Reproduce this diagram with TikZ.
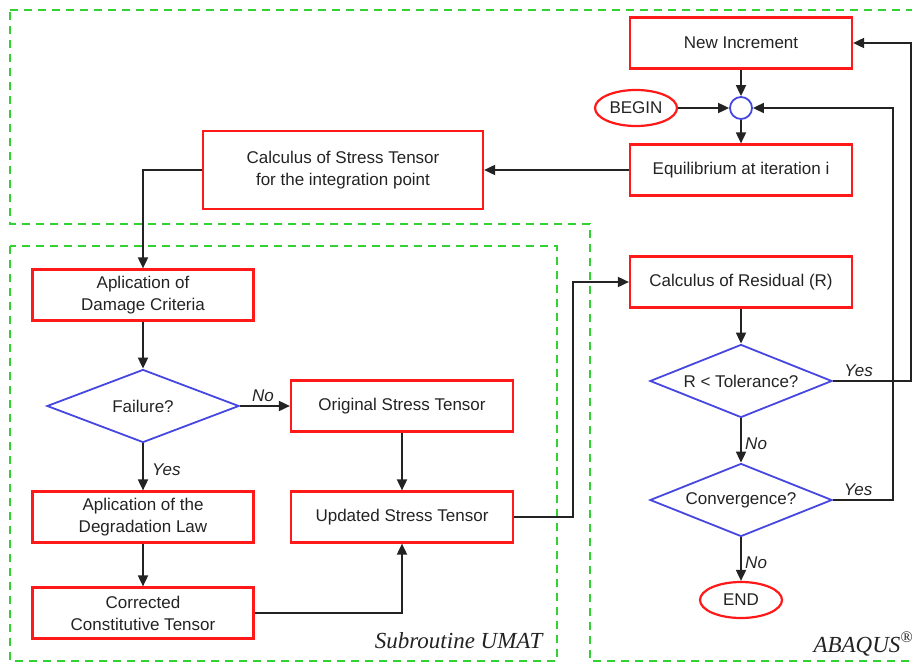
\documentclass[tikz,border=0pt]{standalone}
\usepackage{fontspec}
\setmainfont{Liberation Sans}
\newfontfamily\serifit{Liberation Serif}
\usetikzlibrary{shapes.geometric,arrows.meta}
\definecolor{boxred}{RGB}{255,25,25}
\definecolor{dblue}{RGB}{70,70,225}
\definecolor{dgreen}{RGB}{50,210,50}
\definecolor{ink}{RGB}{35,35,35}
\begin{document}
\begin{tikzpicture}[x=1pt,y=-1pt,
  font=\fontsize{17}{22}\selectfont, text=ink,
  proc/.style={draw=boxred,line width=2.2pt,minimum width=222pt,minimum height=51pt,align=center,inner sep=0pt},
  dec/.style={draw=dblue,line width=1.8pt,diamond,aspect=2.6,minimum width=182pt,minimum height=73pt,inner sep=0pt},
  term/.style={draw=boxred,line width=2.2pt,ellipse,minimum width=82pt,minimum height=36pt,inner sep=0pt},
  conn/.style={draw=ink,line width=1.8pt,-{Triangle[length=11pt,width=10pt]}},
  zone/.style={draw=dgreen,line width=2pt,dash pattern=on 8pt off 6pt},
  lab/.style={font=\fontsize{17}{20}\selectfont\itshape},
  ttl/.style={font=\fontsize{23}{26}\selectfont\serifit\itshape}
]
\useasboundingbox (0,0) rectangle (912,663);
\clip (0,0) rectangle (912,663);

% zones
\draw[zone] (10,10) -- (925,10) -- (925,661) -- (590,661) -- (590,224) -- (10,224) -- cycle;
\draw[zone] (10,246) rectangle (557,661);
\node[ttl,anchor=base east] (umat) at (546,648) {Subroutine UMAT};
\node[ttl,anchor=base west] (abq) at (810,652) {ABAQUS\textsuperscript{®}};

% ABAQUS top part
\node[proc] (ni) at (741,43) {New Increment};
\node[circle,draw=dblue,line width=1.8pt,minimum size=22pt,inner sep=0pt] (j) at (741,108) {};
\node[term] (begin) at (636,108) {BEGIN};
\node[proc] (eq) at (741,170) {Equilibrium at iteration i};
\node[proc,minimum width=280pt,minimum height=78pt] (calc) at (343,170) {Calculus of Stress Tensor\\for the integration point};

% UMAT
\node[proc,minimum width=221pt] (dam) at (143,295) {Aplication of\\Damage Criteria};
\node[dec,minimum width=192pt] (fail) at (143,406) {Failure?};
\node[proc] (orig) at (402,406) {Original Stress Tensor};
\node[proc,minimum width=221pt] (deg) at (143,517) {Aplication of the\\Degradation Law};
\node[proc] (upd) at (402,517) {Updated Stress Tensor};
\node[proc,minimum width=221pt] (cor) at (143,613) {Corrected\\Constitutive Tensor};

% ABAQUS lower part
\node[proc] (res) at (741,282) {Calculus of Residual (R)};
\node[dec] (tol) at (741,381) {R < Tolerance?};
\node[dec] (conv) at (741,500) {Convergence?};
\node[term] (end) at (741,600) {END};

% connectors
\draw[conn] (ni) -- (j);
\draw[conn] (begin) -- (j);
\draw[conn] (j) -- (eq);
\draw[conn] (eq) -- (calc);
\draw[conn] (calc.west) -| (dam.north);
\draw[conn] (dam) -- (fail);
\draw[conn] (fail) -- node[lab,above,xshift=-2pt]{No} (orig);
\draw[conn] (fail) -- node[lab,right,xshift=5pt,yshift=-3pt]{Yes} (deg);
\draw[conn] (orig) -- (upd);
\draw[conn] (deg) -- (cor);
\draw[conn] (cor.east) -| (upd.south);
\draw[conn] (upd.east) -- ++(59,0) |- (res.west);
\draw[conn] (res) -- (tol);
\draw[conn] (tol) -- node[lab,right,yshift=-3pt]{No} (conv);
\draw[conn] (conv) -- node[lab,right,yshift=-4pt]{No} (end);
\draw[conn] (tol.east) -- node[lab,above,pos=0.33]{Yes} ++(78,0) |- (ni.east);
\draw[conn] (conv.east) -- node[lab,above,pos=0.42]{Yes} ++(60,0) |- (j.east);
\end{tikzpicture}
\end{document}
